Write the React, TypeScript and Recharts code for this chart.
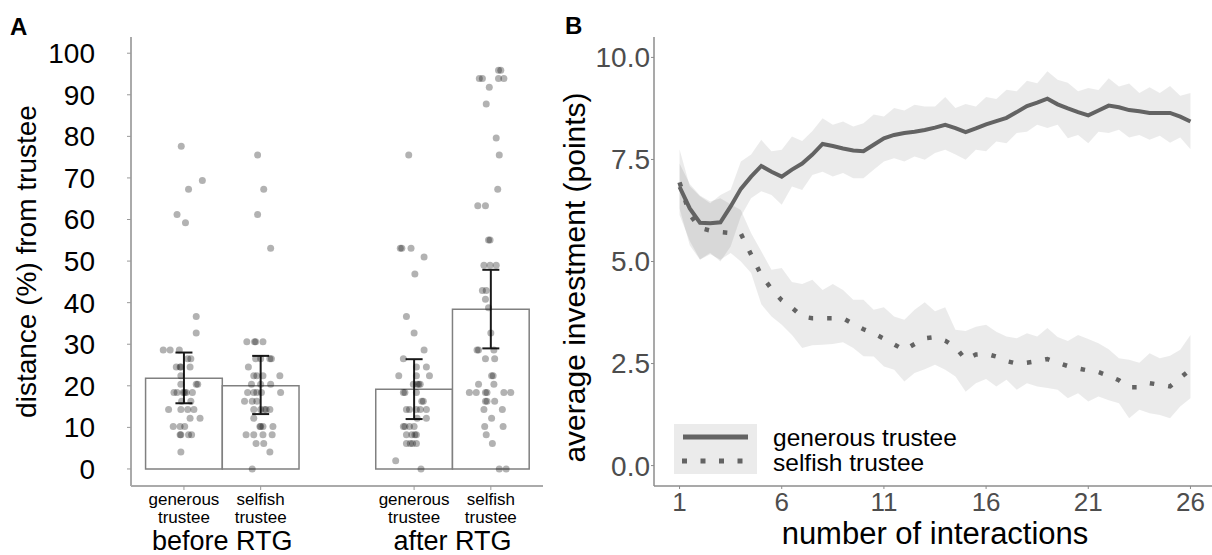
import {
  ComposedChart, Scatter, ErrorBar, XAxis, YAxis, Area, Line, ReferenceArea,
} from 'recharts'

const FONT = '"Liberation Sans", Arial, sans-serif'

// ---------- panel A: distance from trustee ----------
const categories = ['generous trustee', 'selfish trustee', 'generous trustee', 'selfish trustee']
const catPos = [1, 2, 4, 5]
const groups = ['before RTG', 'after RTG']
const groupPos = [1.5, 4.5]
const barMeans = [21.8, 20.0, 19.2, 38.4]
const barLow = [15.8, 13.2, 12.0, 29.0]
const barHigh = [28.0, 27.2, 26.4, 47.9]
const yTicksA = [0, 10, 20, 30, 40, 50, 60, 70, 80, 90, 100]

// [horizontal jitter, value] per participant
const ptsBeforeGenerous: [number, number][] = [
  [-0.035, 77.6], [0.06, 67.3], [0.24, 69.4], [-0.09, 61.2], [0.02, 59.2],
  [0.16, 36.7], [0.16, 32.7], [-0.27, 28.6], [-0.18, 28.6], [-0.06, 28.6],
  [0.05, 26.5], [0.09, 26.5], [-0.10, 24.5], [-0.05, 24.5], [-0.04, 24.5], [0.08, 24.5],
  [-0.04, 22.4], [-0.04, 20.4], [0.16, 20.4], [0.18, 20.4],
  [-0.13, 18.4], [-0.09, 18.4], [-0.01, 18.4], [0.01, 18.4], [0.03, 18.4], [0.11, 18.4],
  [-0.03, 16.3], [0.09, 16.3], [-0.20, 14.3], [-0.04, 14.3], [0.05, 14.3], [0.13, 14.3],
  [0.08, 12.2], [0.21, 12.2], [-0.14, 10.2], [-0.05, 10.2], [0.01, 10.2],
  [-0.05, 8.2], [-0.04, 8.2], [0.06, 8.2], [0.10, 8.2], [-0.04, 4.1],
]
const ptsBeforeSelfish: [number, number][] = [
  [-0.04, 75.5], [0.04, 67.3], [-0.04, 61.2], [0.13, 53.1],
  [-0.18, 30.6], [-0.08, 30.6], [-0.065, 30.6], [0.03, 30.6],
  [-0.065, 26.5], [0, 26.5], [0.12, 26.5], [0.14, 26.5], [-0.16, 24.5],
  [-0.09, 22.4], [-0.05, 22.4], [0.03, 22.4], [0.25, 22.4],
  [-0.12, 20.4], [0, 20.4], [0.13, 20.4],
  [-0.17, 18.4], [-0.09, 18.4], [-0.05, 18.4], [0.01, 18.4], [0.26, 18.4],
  [-0.21, 16.3], [-0.11, 16.3], [-0.05, 16.3],
  [-0.09, 14.3], [0, 14.3], [0.05, 14.3], [0.07, 14.3], [0.12, 14.3],
  [-0.09, 12.2], [-0.01, 10.2], [0, 10.2], [0.03, 10.2], [0.16, 10.2],
  [-0.19, 8.2], [-0.09, 8.2], [0.03, 8.2], [0.15, 8.2],
  [-0.06, 6.1], [0.04, 6.1], [0.12, 4.1], [-0.11, 0],
]
const ptsAfterGenerous: [number, number][] = [
  [-0.07, 75.5], [-0.18, 53.1], [-0.16, 53.1], [-0.04, 53.1], [0.13, 51.0], [0.01, 46.9],
  [-0.10, 36.7], [0, 32.7], [0.13, 28.6], [-0.14, 26.5], [0.03, 24.5], [0.16, 24.5],
  [-0.20, 22.4], [0.03, 22.4], [0.20, 22.4],
  [-0.01, 20.4], [0.04, 20.4], [0.06, 20.4], [0.08, 20.4],
  [-0.14, 18.4], [-0.12, 18.4], [0.03, 18.4], [0.10, 16.3], [0.12, 16.3],
  [-0.10, 14.3], [-0.06, 14.3], [0.03, 14.3], [0.08, 14.3], [0.16, 14.3],
  [0.04, 12.2], [0.16, 12.2], [-0.14, 10.2], [-0.12, 10.2], [-0.06, 10.2], [0, 10.2],
  [-0.10, 8.2], [-0.03, 8.2], [0.01, 8.2], [0.03, 8.2],
  [-0.10, 6.1], [-0.05, 6.1], [-0.02, 6.1], [0.03, 6.1], [-0.24, 2.0], [0.09, 0],
]
const ptsAfterSelfish: [number, number][] = [
  [0.10, 95.9], [0.13, 95.9], [-0.15, 93.9], [-0.11, 93.9], [0.10, 93.9], [0.17, 93.9],
  [-0.02, 91.8], [-0.06, 87.8], [0.07, 79.6], [0.11, 75.5], [0.09, 67.3],
  [-0.17, 63.3], [-0.07, 63.3], [-0.03, 55.1], [-0.01, 55.1],
  [-0.09, 49.0], [-0.01, 49.0], [0.07, 49.0], [-0.11, 42.9], [-0.06, 42.9],
  [-0.07, 40.8], [-0.03, 38.8], [0, 32.7], [-0.18, 28.6], [-0.16, 28.6], [0.04, 28.6],
  [-0.07, 26.5], [0.05, 26.5], [0.01, 22.4], [0.03, 22.4], [-0.16, 20.4], [0.04, 20.4],
  [-0.28, 18.4], [-0.19, 18.4], [-0.07, 18.4], [-0.05, 18.4], [0.17, 18.4], [0.26, 18.4],
  [-0.07, 16.3], [-0.05, 16.3], [0.05, 16.3], [-0.09, 14.3], [0.15, 14.3],
  [0.01, 12.2], [-0.08, 10.2], [0.16, 10.2], [-0.06, 8.2], [0.02, 6.1],
  [0.11, 0], [0.20, 0],
]
const pointSets = [ptsBeforeGenerous, ptsBeforeSelfish, ptsAfterGenerous, ptsAfterSelfish]
const BAR_HALF = 0.5 // bars fill one category slot

// ---------- panel B: investment over interactions ----------
const interactions = [
  1, 1.5, 2, 2.5, 3, 3.5, 4, 4.5, 5, 5.5, 6, 6.5, 7, 7.5, 8, 8.5, 9, 9.5, 10, 10.5,
  11, 11.5, 12, 12.5, 13, 13.5, 14, 14.5, 15, 15.5, 16, 16.5, 17, 17.5, 18, 18.5, 19, 19.5, 20, 20.5,
  21, 21.5, 22, 22.5, 23, 23.5, 24, 24.5, 25, 25.5, 26,
]
const generousMean = [
  6.83, 6.30, 5.95, 5.94, 5.96, 6.35, 6.78, 7.08, 7.34, 7.20, 7.08, 7.25, 7.40, 7.62, 7.88, 7.83, 7.77, 7.72, 7.70, 7.86,
  8.02, 8.10, 8.15, 8.18, 8.22, 8.28, 8.35, 8.27, 8.17, 8.26, 8.36, 8.44, 8.52, 8.66, 8.81, 8.89, 8.99, 8.85, 8.75, 8.66,
  8.58, 8.70, 8.82, 8.78, 8.71, 8.68, 8.64, 8.64, 8.64, 8.55, 8.43,
]
const generousUpper = [
  7.75, 6.85, 6.60, 6.43, 6.63, 6.76, 7.45, 7.62, 7.98, 7.70, 7.74, 8.06, 7.95, 8.20, 8.51, 8.35, 8.43, 8.31, 8.39, 8.60,
  8.55, 8.76, 8.70, 8.84, 8.80, 8.80, 9.03, 8.76, 8.86, 8.80, 9.03, 8.98, 9.21, 9.17, 9.43, 9.37, 9.66, 9.45, 9.38, 9.17,
  9.25, 9.20, 9.49, 9.29, 9.36, 9.13, 9.27, 9.13, 9.30, 9.06, 9.13,
]
const generousLower = [
  6.14, 5.50, 5.05, 5.21, 5.00, 5.37, 6.10, 6.55, 6.72, 6.63, 6.39, 6.84, 6.75, 7.12, 7.20, 7.08, 7.17, 7.04, 7.04, 7.25,
  7.45, 7.53, 7.45, 7.57, 7.49, 7.66, 7.74, 7.62, 7.49, 7.74, 7.70, 7.94, 7.90, 8.15, 8.18, 8.35, 8.27, 8.35, 8.02, 8.10,
  7.90, 8.18, 8.15, 8.23, 8.04, 8.10, 7.98, 8.08, 7.91, 8.04, 7.75,
]
const selfishMean = [
  6.94, 6.15, 5.82, 5.76, 5.72, 5.70, 5.68, 5.17, 4.66, 4.33, 4.05, 3.87, 3.65, 3.61, 3.61, 3.61, 3.61, 3.47, 3.34, 3.24,
  3.11, 2.97, 2.83, 2.98, 3.12, 3.15, 3.06, 2.90, 2.60, 2.72, 2.74, 2.67, 2.56, 2.50, 2.52, 2.56, 2.61, 2.52, 2.44, 2.38,
  2.33, 2.29, 2.20, 2.09, 1.92, 1.92, 2.02, 1.98, 1.94, 2.15, 2.35,
]
const selfishUpper = [
  7.40, 6.90, 6.62, 6.47, 6.55, 6.40, 6.26, 5.70, 5.25, 4.80, 4.84, 4.50, 4.45, 4.55, 4.30, 4.45, 4.30, 4.06, 4.06, 3.82,
  3.88, 3.65, 3.57, 3.82, 4.00, 3.78, 3.88, 3.33, 3.30, 3.40, 3.45, 3.28, 3.16, 3.12, 3.24, 3.16, 3.37, 3.15, 3.05, 3.20,
  3.10, 3.00, 2.85, 2.63, 2.59, 2.52, 2.75, 2.63, 2.69, 2.84, 3.20,
]
const selfishLower = [
  6.30, 5.40, 5.04, 5.18, 5.04, 5.21, 5.00, 4.72, 3.95, 3.65, 3.45, 3.20, 2.88, 2.95, 2.96, 2.98, 3.02, 2.88, 2.68, 2.67,
  2.43, 2.35, 2.06, 2.27, 2.36, 2.47, 2.35, 2.18, 1.81, 2.02, 2.12, 1.94, 2.10, 1.86, 2.02, 1.94, 1.90, 1.86, 1.65, 1.77,
  1.57, 1.69, 1.60, 1.53, 1.16, 1.37, 1.28, 1.24, 1.16, 1.45, 1.65,
]
const xTicksB = [1, 6, 11, 16, 21, 26]
const yTicksB = [0, 2.5, 5, 7.5, 10]
const seriesNames = ['generous trustee', 'selfish trustee']

// tables the library reads
const barRows = catPos.map((pos, i) => ({
  pos,
  mean: barMeans[i],
  err: [barMeans[i] - barLow[i], barHigh[i] - barMeans[i]],
}))
const pointRows = pointSets.flatMap((set, i) =>
  set.map(([dx, v]) => ({ pos: catPos[i] + dx, v }))
)
const lineRows = interactions.map((x, i) => ({
  x,
  gen: generousMean[i],
  sel: selfishMean[i],
  genBand: [generousLower[i], generousUpper[i]],
  selBand: [selfishLower[i], selfishUpper[i]],
}))

const LINE_GREY = '#636363'

function CategoryTick({ x, y, payload }: any) {
  const i = catPos.indexOf(payload.value)
  const [first, second] = categories[i].split(' ')
  return (
    <text x={x} y={y} textAnchor="middle" fontSize={17} fill="#000" fontFamily={FONT}>
      <tspan x={x} dy={13}>{first}</tspan>
      <tspan x={x} dy={17.5}>{second}</tspan>
    </text>
  )
}

function GroupTick({ x, y, payload }: any) {
  const i = groupPos.indexOf(payload.value)
  return (
    <text x={x} y={y} dy={20} textAnchor="middle" fontSize={27} fill="#000" fontFamily={FONT}>
      {groups[i]}
    </text>
  )
}

function Dot({ cx, cy }: any) {
  return <circle cx={cx} cy={cy} r={3.5} fill="#000" fillOpacity={0.3} />
}

function PanelA() {
  return (
    <ComposedChart
      width={560}
      height={555}
      data={barRows}
      margin={{ top: 37, right: 17, bottom: 0, left: 0 }}
      style={{ fontFamily: FONT }}
    >
      <XAxis
        xAxisId="cat"
        dataKey="pos"
        type="number"
        domain={[0.31, 5.68]}
        ticks={catPos}
        interval={0}
        allowDataOverflow
        height={42}
        axisLine={{ stroke: '#aaaaaa', strokeWidth: 2 }}
        tickLine={{ stroke: '#999999' }}
        tickSize={4}
        tickMargin={2}
        tick={<CategoryTick />}
      />
      <XAxis
        xAxisId="grp"
        dataKey="pos"
        type="number"
        domain={[0.31, 5.68]}
        ticks={groupPos}
        interval={0}
        allowDataOverflow
        height={27}
        axisLine={false}
        tickLine={false}
        tickSize={0}
        tickMargin={2}
        tick={<GroupTick />}
      />
      <YAxis
        type="number"
        domain={[-4.1, 103.9]}
        ticks={yTicksA}
        interval={0}
        allowDataOverflow
        width={131}
        axisLine={{ stroke: '#aaaaaa', strokeWidth: 2 }}
        tickLine={{ stroke: '#999999' }}
        tickSize={4}
        tickMargin={32}
        tick={{ fontSize: 28, fill: '#000', fontFamily: FONT }}
        label={{
          content: ({ viewBox }: any) => {
            const cx = viewBox.x + 26
            const cy = viewBox.y + viewBox.height / 2
            return (
              <text x={cx} y={cy} transform={`rotate(-90 ${cx} ${cy})`} textAnchor="middle"
                dominantBaseline="central" fontSize={28} fill="#000" fontFamily={FONT}>
                distance (%) from trustee
              </text>
            )
          },
        }}
      />
      {barRows.map((row) => (
        <ReferenceArea
          key={row.pos}
          xAxisId="cat"
          x1={row.pos - BAR_HALF}
          x2={row.pos + BAR_HALF}
          y1={0}
          y2={row.mean}
          fill="#ffffff"
          fillOpacity={1}
          stroke="#808080"
          strokeWidth={1.5}
          ifOverflow="visible"
        />
      ))}
      <Scatter xAxisId="cat" data={pointRows} dataKey="v" shape={<Dot />} isAnimationActive={false} />
      <Scatter xAxisId="cat" data={barRows} dataKey="mean" shape={() => <g />} isAnimationActive={false}>
        <ErrorBar dataKey="err" direction="y" width={8.5} stroke="#1a1a1a" strokeWidth={2} />
      </Scatter>
    </ComposedChart>
  )
}

const B_LEFT = 545

function PanelB() {
  return (
    <ComposedChart
      width={1216 - B_LEFT}
      height={555}
      data={lineRows}
      margin={{ top: 37, right: 0, bottom: 0, left: 0 }}
      style={{ fontFamily: FONT }}
    >
      <XAxis
        dataKey="x"
        type="number"
        domain={[-0.25, 27.25]}
        ticks={xTicksB}
        interval={0}
        allowDataOverflow
        height={69}
        axisLine={{ stroke: '#8c8c8c', strokeWidth: 1.5 }}
        tickLine={{ stroke: '#8c8c8c' }}
        tickSize={3}
        tickMargin={4}
        tick={{ fontSize: 26, fill: '#4d4d4d', fontFamily: FONT }}
        label={{
          content: ({ viewBox }: any) => (
            <text x={viewBox.x + viewBox.width / 2} y={viewBox.y + 58} textAnchor="middle"
              fontSize={31} fill="#000" fontFamily={FONT}>
              number of interactions
            </text>
          ),
        }}
      />
      <YAxis
        type="number"
        domain={[-0.5, 10.5]}
        ticks={yTicksB}
        interval={0}
        allowDataOverflow
        width={654 - B_LEFT}
        axisLine={{ stroke: '#8c8c8c', strokeWidth: 1.5 }}
        tickLine={{ stroke: '#8c8c8c' }}
        tickSize={3}
        tickMargin={1}
        tickFormatter={(v: number) => v.toFixed(1)}
        tick={{ fontSize: 28, fill: '#4d4d4d', fontFamily: FONT }}
        label={{
          content: ({ viewBox }: any) => {
            const cx = viewBox.x + 574 - B_LEFT
            const cy = viewBox.y + viewBox.height / 2 + 16
            return (
              <text x={cx} y={cy} transform={`rotate(-90 ${cx} ${cy})`} textAnchor="middle"
                dominantBaseline="central" fontSize={30} fill="#000" fontFamily={FONT}>
                average investment (points)
              </text>
            )
          },
        }}
      />
      <Area type="linear" dataKey="genBand" stroke="none" fill="#000" fillOpacity={0.08} isAnimationActive={false} />
      <Area type="linear" dataKey="selBand" stroke="none" fill="#000" fillOpacity={0.08} isAnimationActive={false} />
      <Line type="linear" dataKey="gen" stroke={LINE_GREY} strokeWidth={4} dot={false} activeDot={false} isAnimationActive={false} />
      <Line type="linear" dataKey="sel" stroke={LINE_GREY} strokeWidth={4.5} strokeDasharray="4.5 14"
        strokeLinecap="butt" dot={false} activeDot={false} isAnimationActive={false} />
    </ComposedChart>
  )
}

export default function App() {
  return (
    <div style={{ position: 'absolute', left: 0, top: 0, width: 1212, height: 555, overflow: 'hidden', background: '#fff' }}>
      <div style={{ position: 'absolute', left: 0, top: 0 }}>
        <PanelA />
      </div>
      <div style={{ position: 'absolute', left: B_LEFT, top: 0 }}>
        <PanelB />
      </div>
      <svg width={1212} height={555} style={{ position: 'absolute', left: 0, top: 0, pointerEvents: 'none' }}>
        <text x={10} y={35} fontSize={24} fontWeight="bold" fontFamily={FONT}>A</text>
        <text x={565} y={34} fontSize={24} fontWeight="bold" fontFamily={FONT}>B</text>
        {/* legend for panel B */}
        <rect x={674} y={424} width={83} height={50} fill="#ebebeb" />
        <line x1={683} x2={748} y1={437} y2={437} stroke={LINE_GREY} strokeWidth={5} />
        <line x1={682} x2={748} y1={461} y2={461} stroke={LINE_GREY} strokeWidth={5} strokeDasharray="5 13.5" />
        <text x={773} y={446} fontSize={24.5} fontFamily={FONT}>{seriesNames[0]}</text>
        <text x={773} y={470.5} fontSize={24.5} fontFamily={FONT}>{seriesNames[1]}</text>
      </svg>
    </div>
  )
}
